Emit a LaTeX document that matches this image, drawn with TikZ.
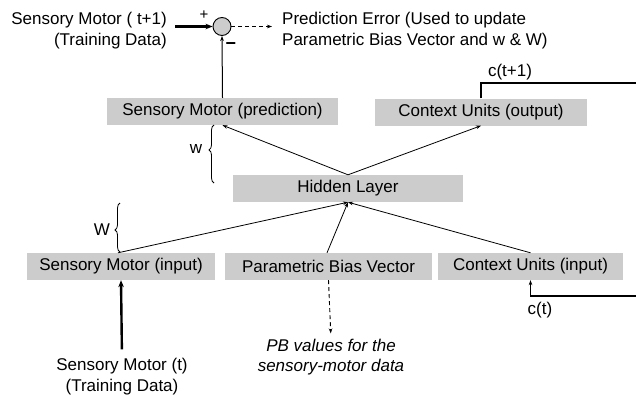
\documentclass[tikz,border=0pt]{standalone}
\usepackage{fontspec}
\setmainfont{Liberation Sans}
\usetikzlibrary{arrows.meta,decorations.pathreplacing}
\definecolor{boxgray}{gray}{0.8}
\begin{document}
\begin{tikzpicture}[x=1pt,y=-1pt,
  txt/.style={inner sep=0pt, font=\fontsize{17}{21}\selectfont},
  layer/.style={txt, fill=boxgray, minimum height=27pt},
  conn/.style={line width=0.8pt, -{Stealth[length=5pt,width=3.6pt]}},
  bigarrow/.style={line width=2.4pt, -{Stealth[length=7pt,width=5.5pt]}},
  dasharrow/.style={line width=0.9pt, dash pattern=on 4pt off 3pt, -{Stealth[length=5pt,width=3.6pt]}},
  loopline/.style={line width=1.1pt},
  bracestyle/.style={line width=0.8pt, decorate, decoration={brace, amplitude=5pt}}
]
\useasboundingbox (0,0) rectangle (636,396);

% layer boxes
\node[layer, minimum width=231pt] (pred)   at (222.5,111.5) {Sensory Motor (prediction)};
\node[layer, minimum width=212pt] (ctxout) at (481,112)     {Context Units (output)};
\node[layer, minimum width=230pt] (hidden) at (348,188.5)   {Hidden Layer};
\node[layer, minimum width=188pt] (smin)   at (121,266.5)   {Sensory Motor (input)};
\node[layer, minimum width=207pt] (pbv)    at (328.5,266.5) {Parametric Bias Vector};
\node[layer, minimum width=185pt] (ctxin)  at (530.5,266.5) {Context Units (input)};

% comparator
\node[circle, draw, fill=boxgray, line width=0.9pt, minimum size=18pt, inner sep=0pt] (sum) at (222,26.5) {};
\node[inner sep=0pt, font=\fontsize{15}{15}\selectfont] (plus) at (204,15.5) {+};
\node[inner sep=0pt, font=\fontsize{18}{18}\selectfont\bfseries] (minus) at (231,46) {−};

% texts
\node[txt, align=right, anchor=east] (smt1) at (167,31) {Sensory Motor ( t+1)\\(Training Data)};
\node[txt, align=left, anchor=west] (pe) at (282,31) {Prediction Error (Used to update\\Parametric Bias Vector and w \& W)};
\node[txt] (ctp1) at (510,72.5) {c(t+1)};
\node[txt] (ct) at (540,310.5) {c(t)};
\node[txt] (wl) at (196,149) {w};
\node[txt] (Wl) at (102,230) {W};
\node[txt, align=center] (smt) at (122,377) {Sensory Motor (t)\\(Training Data)};
\node[txt, align=center, font=\fontsize{17}{20}\selectfont\itshape] (pbt) at (331,357.5) {PB values for the\\sensory-motor data};

% coordinates
\coordinate (tdin) at (175,26.5);
\coordinate (peend) at (272,26.5);
\coordinate (r1) at (640,83);
\coordinate (r2) at (640,296);
\coordinate (wa) at (214,183);
\coordinate (wb) at (214,125);
\coordinate (Wa) at (120,252);
\coordinate (Wb) at (120,203);

% connectors
\draw[bigarrow] (tdin) -- (sum.west);
\draw[dasharrow] (sum.east) -- (peend);
\draw[conn, line width=1pt] (pred.north) -- (sum.south);
\draw[conn] (hidden.north) -- (pred.south);
\draw[conn] (hidden.north) -- (ctxout.south);
\draw[conn] ([xshift=-3pt]smin.north) -- (hidden.south);
\draw[conn] ([xshift=-1.5pt]pbv.north) -- (hidden.south);
\draw[conn] (ctxin.north) -- (hidden.south);
\draw[loopline] (ctxout.north) |- (r1) -- (r2);
\draw[loopline, -{Stealth[length=5pt,width=3.6pt]}] (r2) -| (ctxin.south);
\draw[bigarrow, shorten <=9pt] (smt.north) -- (smin.south);
\draw[dasharrow, shorten >=6pt] (pbv.south) -- (pbt.north);

% braces
\draw[bracestyle, decoration={aspect=0.57}] (wa) -- (wb);
\draw[bracestyle, decoration={aspect=0.45}] (Wa) -- (Wb);
\end{tikzpicture}
\end{document}
